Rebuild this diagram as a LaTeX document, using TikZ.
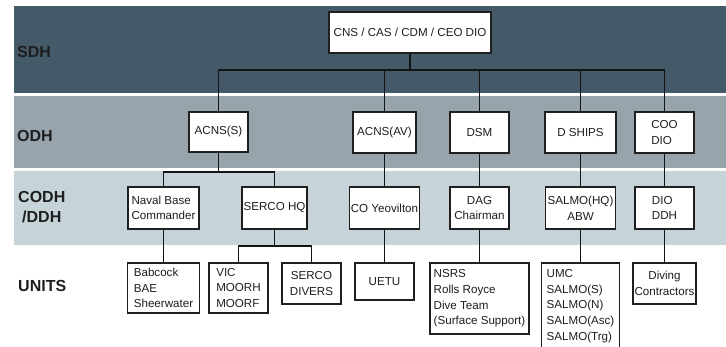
\documentclass[tikz,border=0pt]{standalone}
\usepackage{fontspec}
\setmainfont{Liberation Sans}
\definecolor{sdhc}{HTML}{445A68}
\definecolor{odhc}{HTML}{98A4AB}
\definecolor{codhc}{HTML}{C6D4D9}
\definecolor{txtc}{HTML}{1E1E1E}
\begin{document}
\begin{tikzpicture}[x=1pt,y=-1pt,
  box/.style={draw=black!88, line width=1.1pt, fill=white, inner sep=0pt,
    text=txtc, font=\fontsize{11.6}{15.6}\selectfont, align=center},
  lbl/.style={anchor=west, inner sep=0pt, text=txtc, align=center,
    font=\fontsize{16}{20}\selectfont\bfseries},
  conn/.style={line width=1.9pt, draw=black!92}]
\useasboundingbox (0,0) rectangle (726,347);
% bands
\fill[sdhc] (14,6) rectangle (726,93.3);
\fill[odhc] (14,96) rectangle (726,168.3);
\fill[codhc] (14,171.5) rectangle (726,245);
% level labels
\node[lbl] (lsdh) at (17,52) {SDH};
\node[lbl] (lodh) at (17,136) {ODH};
\node[lbl] (lcodh) at (18,207) {CODH\\/DDH};
\node[lbl] (lunits) at (18,286) {UNITS};
% nodes
\node[box, minimum width=162, minimum height=41] (top) at (410,32.5) {CNS / CAS / CDM / CEO DIO};
\node[box, minimum width=59, minimum height=40] (acnss) at (218.5,132) {ACNS(S)};
\node[box, minimum width=63, minimum height=41] (acnsav) at (384.5,132.5) {ACNS(AV)};
\node[box, minimum width=59, minimum height=41] (dsm) at (479.5,132.5) {DSM};
\node[box, minimum width=71, minimum height=41] (dships) at (580.5,132.5) {D SHIPS};
\node[box, minimum width=59, minimum height=41, align=left] (coo) at (664.5,132.5) {COO\\DIO};
\node[box, minimum width=71, minimum height=42, align=left] (nbc) at (163.5,208) {Naval Base\\Commander};
\node[box, minimum width=65, minimum height=42] (sercohq) at (274.5,208) {SERCO HQ};
\node[box, minimum width=70, minimum height=42] (coyeo) at (384.5,208) {CO Yeovilton};
\node[box, minimum width=59, minimum height=42] (dag) at (479.5,208) {DAG\\Chairman};
\node[box, minimum width=70, minimum height=42] (salmo) at (580.5,208) {SALMO(HQ)\\ABW};
\node[box, minimum width=59, minimum height=42, align=left] (dio) at (664.5,208) {DIO\\DDH};
\node[box, minimum width=72, minimum height=50, align=left] (babcock) at (163.5,288) {Babcock\\BAE\\Sheerwater};
\node[box, minimum width=59, minimum height=50, align=left] (vic) at (238.5,288) {VIC\\MOORH\\MOORF};
\node[box, minimum width=59, minimum height=41] (sdiv) at (311.5,283.5) {SERCO\\DIVERS};
\node[box, minimum width=59, minimum height=37] (uetu) at (384.5,281.5) {UETU};
\node[box, minimum width=99, minimum height=71, align=left] (nsrs) at (479.5,298.5) {NSRS\\Rolls Royce\\Dive Team\\(Surface Support)};
\node[box, minimum width=78, minimum height=86, align=left] (umc) at (580.5,306) {UMC\\SALMO(S)\\SALMO(N)\\SALMO(Asc)\\SALMO(Trg)};
\node[box, minimum width=63, minimum height=41] (diving) at (664.5,283.5) {Diving\\Contractors};
% connectors
\coordinate (bus) at (410,70);
\coordinate (j1) at (218.5,172);
\coordinate (j2) at (274.5,246);
\draw[conn] (top.south) -- (bus);
\draw[conn] (bus) -| (acnss.north);
\draw[conn] (bus) -| (acnsav.north);
\draw[conn] (bus) -| (dsm.north);
\draw[conn] (bus) -| (dships.north);
\draw[conn] (bus) -| (coo.north);
\draw[conn] (acnss.south) -- (j1);
\draw[conn] (j1) -| (nbc.north);
\draw[conn] (j1) -| (sercohq.north);
\draw[conn] (sercohq.south) -- (j2);
\draw[conn] (j2) -| (vic.north);
\draw[conn] (j2) -| (sdiv.north);
\draw[conn] (nbc.south) -- (babcock.north);
\draw[conn] (acnsav.south) -- (coyeo.north);
\draw[conn] (coyeo.south) -- (uetu.north);
\draw[conn] (dsm.south) -- (dag.north);
\draw[conn] (dag.south) -- (nsrs.north);
\draw[conn] (dships.south) -- (salmo.north);
\draw[conn] (salmo.south) -- (umc.north);
\draw[conn] (coo.south) -- (dio.north);
\draw[conn] (dio.south) -- (diving.north);
\end{tikzpicture}
\end{document}
